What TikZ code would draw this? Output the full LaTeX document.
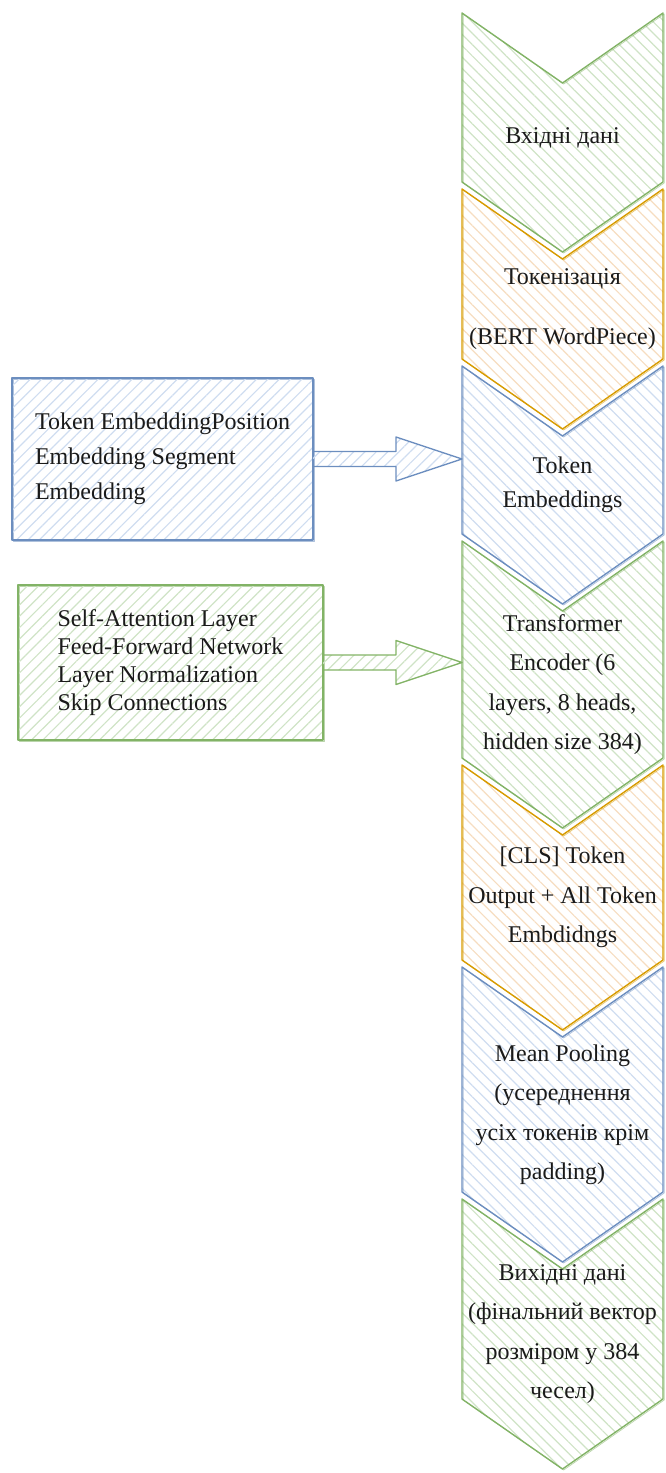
\documentclass[tikz,border=0pt]{standalone}
\usepackage{fontspec}
\setmainfont{Liberation Serif}
\newfontfamily\stagefont{Liberation Serif}
\usepackage{xcolor}
\usetikzlibrary{positioning, calc, backgrounds, patterns.meta}

\definecolor{grnD}{HTML}{82B366}
\definecolor{grnF}{HTML}{CFE3C6}
\definecolor{orgD}{HTML}{D79B00}
\definecolor{orgF}{HTML}{F6DDC0}
\definecolor{bluD}{HTML}{6C8EBF}
\definecolor{bluF}{HTML}{CFDDF0}
\definecolor{ink}{HTML}{1A1A1A}

\tikzset{
  chev/.style={rectangle, inner sep=0pt, outer sep=0pt, minimum width=201pt,
    align=center, text=ink, font=\stagefont\fontsize{24}{39.5}\selectfont},
  hatch/.style={pattern={Lines[angle=#1, distance=8pt, line width=1.2pt]}},
  rough/.style={line width=1.4pt, line join=round},
  rough2/.style={line width=.7pt, line join=round, opacity=.55,
    transform canvas={shift={(1.2pt,-1pt)}}},
  partsbox/.style={rectangle, draw=#1D, rough, hatch=45, pattern color=#1F,
    inner sep=0pt, outer sep=0pt, align=left, text=ink},
}

% outline of a stage: notch on top, point below
\newcommand{\chevpath}[1]{(#1.north west) -- ([yshift=-70pt]#1.north) -- (#1.north east)
  -- ([yshift=70pt]#1.south east) -- (#1.south) -- ([yshift=70pt]#1.south west) -- cycle}

\begin{document}
\begin{tikzpicture}[x=1pt, y=-1pt]
\useasboundingbox (0,0) rectangle (665,1473);

% pipeline stages
\node[chev, minimum height=239pt] (in1) at (562.5,132.5) {\\[-12pt]Вхідні дані};
\node[chev, minimum height=240pt, below=-63pt of in1] (tok) {Токенізація\\[20pt](BERT WordPiece)};
\node[chev, minimum height=238pt, below=-63pt of tok] (emb) {Token\\[-5pt]Embeddings};
\node[chev, minimum height=287pt, below=-63pt of emb] (enc) {Transformer\\Encoder (6\\layers, 8 heads,\\hidden size 384)};
\node[chev, minimum height=265pt, below=-63pt of enc] (cls) {[CLS] Token\\Output + All Token\\Embdidngs};
\node[chev, minimum height=295pt, below=-63pt of cls] (pool) {Mean Pooling\\(усереднення\\усіх токенів крім\\padding)};
\node[chev, minimum height=270pt, below=-63pt of pool] (out) {Вихідні дані\\(фінальний вектор\\розміром у 384\\чесел)};

% side boxes
\node[partsbox=blu, minimum width=301pt, minimum height=162pt, font=\stagefont\fontsize{24}{35}\selectfont]
  (embparts) at (162.5,459) {Token EmbeddingPosition\\Embedding Segment\\Embedding};
\node[partsbox=grn, minimum width=305pt, minimum height=155pt, font=\stagefont\fontsize{24}{28}\selectfont]
  (encparts) at (170.5,662.5) {Self-Attention Layer\\Feed-Forward Network\\Layer Normalization\\Skip Connections};

% block arrows into the stack
\foreach \a/\b/\col in {embparts/emb/blu, encparts/enc/grn}{
  \draw[rough, draw=\col D, hatch=45, pattern color=\col F]
    let \p1=(\a.east), \p2=(\b.west |- \a.east) in
    (\x1,\y1+7.5pt) -- (\x2-66pt,\y1+7.5pt) -- (\x2-66pt,\y1+22pt) -- (\x2,\y1)
    -- (\x2-66pt,\y1-22pt) -- (\x2-66pt,\y1-7.5pt) -- (\x1,\y1-7.5pt);
}

\begin{scope}[on background layer]
  \foreach \n/\col in {in1/grn, tok/org, emb/blu, enc/grn, cls/org, pool/blu, out/grn}{
    \path[hatch=-45, pattern color=\col F] \chevpath{\n};
    \draw[rough, draw=\col D] \chevpath{\n};
    \draw[rough2, draw=\col D] \chevpath{\n};
  }
  \draw[rough2, draw=bluD] (embparts.north west) rectangle (embparts.south east);
  \draw[rough2, draw=grnD] (encparts.north west) rectangle (encparts.south east);
\end{scope}
\end{tikzpicture}
\end{document}
